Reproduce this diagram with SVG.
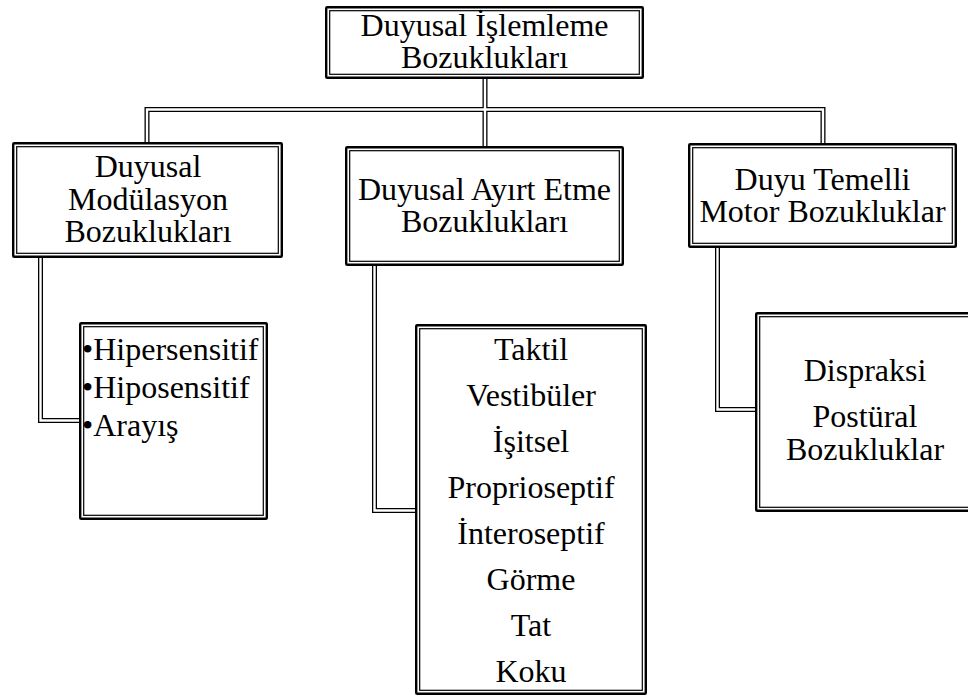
<svg xmlns="http://www.w3.org/2000/svg" width="968" height="698" viewBox="0 0 968 698">
<style>
.o{fill:#fff;stroke:#000;stroke-width:2.4}
.i{fill:none;stroke:#000;stroke-width:1.2}
text{font-family:'Liberation Serif','Times New Roman',Times,'DejaVu Serif',serif;font-size:32px;fill:#000}
.c{text-anchor:middle}
.cb{fill:none;stroke:#000;stroke-width:5;stroke-linejoin:miter}
.cw{fill:none;stroke:#fff;stroke-width:2.4;stroke-linejoin:miter}
</style>
<rect width="968" height="698" fill="#fff"/>
<g id="connectors">
<path class="cb" d="M485,79 V146 M147,142 V109.5 H823 V143 M40.5,258 V420.5 H79 M374.5,266 V510.5 H415 M717.5,248 V409.5 H755"/>
<path class="cw" d="M485,79 V146 M147,142 V109.5 H823 V143 M40.5,258 V420.5 H79 M374.5,266 V510.5 H415 M717.5,248 V409.5 H755"/>
</g>
<g id="root">
<rect class="o" x="326.2" y="7.2" width="316.6" height="70.6" rx="1"/>
<rect class="i" x="329.7" y="10.7" width="309.6" height="63.6"/>
<text class="c" x="484.5" y="36">Duyusal İşlemleme</text>
<text class="c" x="484.5" y="68">Bozuklukları</text>
</g>
<g id="modulasyon">
<rect class="o" x="13.2" y="143.2" width="268.6" height="113.6" rx="1"/>
<rect class="i" x="16.7" y="146.7" width="261.6" height="106.6"/>
<text class="c" x="148" y="177">Duyusal</text>
<text class="c" x="148" y="210">Modülasyon</text>
<text class="c" x="148" y="242">Bozuklukları</text>
</g>
<g id="ayirt">
<rect class="o" x="346.2" y="147.2" width="276.6" height="117.6" rx="1"/>
<rect class="i" x="349.7" y="150.7" width="269.6" height="110.6"/>
<text class="c" x="484.5" y="200">Duyusal Ayırt Etme</text>
<text class="c" x="484.5" y="232">Bozuklukları</text>
</g>
<g id="motor">
<rect class="o" x="689.2" y="144.2" width="266.6" height="102.6" rx="1"/>
<rect class="i" x="692.7" y="147.7" width="259.6" height="95.6"/>
<text class="c" x="822.5" y="190">Duyu Temelli</text>
<text class="c" x="822.5" y="222">Motor Bozukluklar</text>
</g>
<g id="modulasyon-list">
<rect class="o" x="80.2" y="323.2" width="186.6" height="195.6" rx="1"/>
<rect class="i" x="83.7" y="326.7" width="179.6" height="188.6"/>
<text x="82" y="360">•Hipersensitif</text>
<text x="82" y="398">•Hiposensitif</text>
<text x="82" y="436">•Arayış</text>
</g>
<g id="ayirt-list">
<rect class="o" x="416.2" y="325.2" width="229.6" height="368.6" rx="1"/>
<rect class="i" x="419.7" y="328.7" width="222.6" height="361.6"/>
<text class="c" x="531" y="360">Taktil</text>
<text class="c" x="531" y="406">Vestibüler</text>
<text class="c" x="531" y="452">İşitsel</text>
<text class="c" x="531" y="498">Proprioseptif</text>
<text class="c" x="531" y="544">İnteroseptif</text>
<text class="c" x="531" y="590">Görme</text>
<text class="c" x="531" y="636">Tat</text>
<text class="c" x="531" y="682">Koku</text>
</g>
<g id="motor-list">
<rect class="o" x="756.2" y="313.2" width="220" height="197.6" rx="1"/>
<rect class="i" x="759.7" y="316.7" width="213" height="190.6"/>
<text class="c" x="865" y="381">Dispraksi</text>
<text class="c" x="865" y="427">Postüral</text>
<text class="c" x="865" y="460">Bozukluklar</text>
</g>
</svg>
